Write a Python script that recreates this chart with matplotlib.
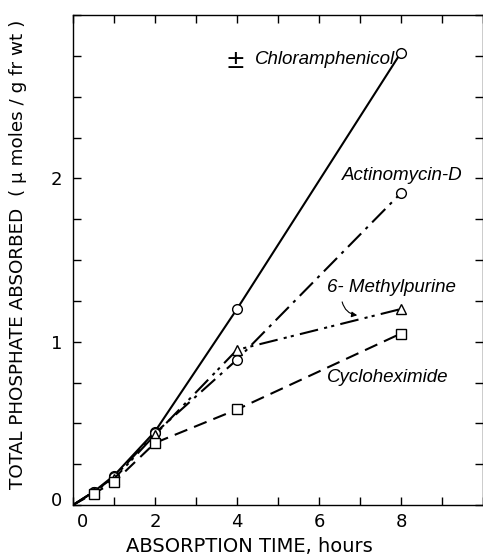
import matplotlib
matplotlib.use("Agg")
import matplotlib.pyplot as plt
from matplotlib.ticker import MultipleLocator, FuncFormatter
import matplotlib.transforms as mtransforms

# Data
time_h = [0, 0.5, 1, 2, 4, 8]
chloramphenicol = [0, 0.08, 0.18, 0.45, 1.20, 2.77]
actinomycin_d = [0, 0.08, 0.17, 0.44, 0.89, 1.91]
methylpurine = [0, 0.08, 0.16, 0.43, 0.95, 1.20]
cycloheximide = [0, 0.07, 0.14, 0.38, 0.585, 1.05]

x_ticklabels = ["0", "2", "4", "6", "8"]
y_ticklabels = ["0", "1", "2"]

fig = plt.figure(figsize=(4.83, 5.59), dpi=100)
ax = fig.add_axes([73/483, 54/559, 410/483, 490/559])

lw = 1.5
mk = dict(markerfacecolor="white", markeredgecolor="black", markeredgewidth=1.0,
          markersize=7, markevery=slice(1, None))

ax.plot(time_h, chloramphenicol, color="black", lw=lw, ls="-", marker="o", **mk, zorder=3)
ax.plot(time_h, actinomycin_d, color="black", lw=lw, ls=(0, (9, 3, 1.5, 3)), marker="o", **mk, zorder=3)
ax.plot(time_h, methylpurine, color="black", lw=lw, ls=(0, (9, 3, 1.5, 2, 1.5, 3)), marker="^", **mk, zorder=3)
ax.plot(time_h, cycloheximide, color="black", lw=lw, ls=(0, (6.5, 3.5)), marker="s", **mk, zorder=3)

ax.set_xlim(0, 10)
ax.set_ylim(0, 3)

ax.xaxis.set_major_locator(MultipleLocator(1))
ax.yaxis.set_major_locator(MultipleLocator(0.25))

def xfmt(v, pos):
    iv = int(round(v))
    if abs(v - iv) < 1e-6 and iv % 2 == 0 and str(iv) in x_ticklabels:
        return str(iv)
    return ""

def yfmt(v, pos):
    iv = int(round(v))
    if abs(v - iv) < 1e-6 and str(iv) in y_ticklabels:
        return str(iv)
    return ""

ax.xaxis.set_major_formatter(FuncFormatter(xfmt))
ax.yaxis.set_major_formatter(FuncFormatter(yfmt))

ax.tick_params(axis="both", which="major", direction="in", length=6, width=1.0,
               top=True, right=True, labelsize=13, pad=8)
ax.tick_params(axis="x", labelsize=13, pad=6)

for s in ax.spines.values():
    s.set_linewidth(1.0)

fig.canvas.draw()
for lab in ax.get_xticklabels():
    if lab.get_text() == "0":
        lab.set_transform(lab.get_transform() + mtransforms.ScaledTranslation(9/100, 0, fig.dpi_scale_trans))
for lab in ax.get_yticklabels():
    if lab.get_text() == "0":
        lab.set_transform(lab.get_transform() + mtransforms.ScaledTranslation(0, 6/100, fig.dpi_scale_trans))

ax.set_xlabel("ABSORPTION TIME, hours", fontsize=14)
ax.xaxis.set_label_coords(0.43, -0.065)
ax.set_ylabel("TOTAL PHOSPHATE ABSORBED  ( \u03bc moles / g fr wt )", fontsize=13.2)
ax.yaxis.set_label_coords(-0.112, 0.512)

tfont = dict(family="Liberation Sans", style="italic", fontsize=13.5)
ax.text(3.95, 2.72, "\u00b1", ha="center", va="center", family="DejaVu Sans", fontsize=17)
ax.text(7.85, 2.73, "Chloramphenicol", ha="right", va="center", **tfont)
ax.text(6.55, 2.02, "Actinomycin-D", ha="left", va="center", **tfont)
ax.text(6.2, 1.33, "6- Methylpurine", ha="left", va="center", **tfont)
ax.text(6.2, 0.78, "Cycloheximide", ha="left", va="center", **tfont)

ax.annotate("", xy=(7.0, 1.16), xytext=(6.55, 1.26),
            arrowprops=dict(arrowstyle="-|>", color="black", lw=0.8,
                            connectionstyle="arc3,rad=0.4", mutation_scale=8))

fig.savefig("out.png", dpi=100)
